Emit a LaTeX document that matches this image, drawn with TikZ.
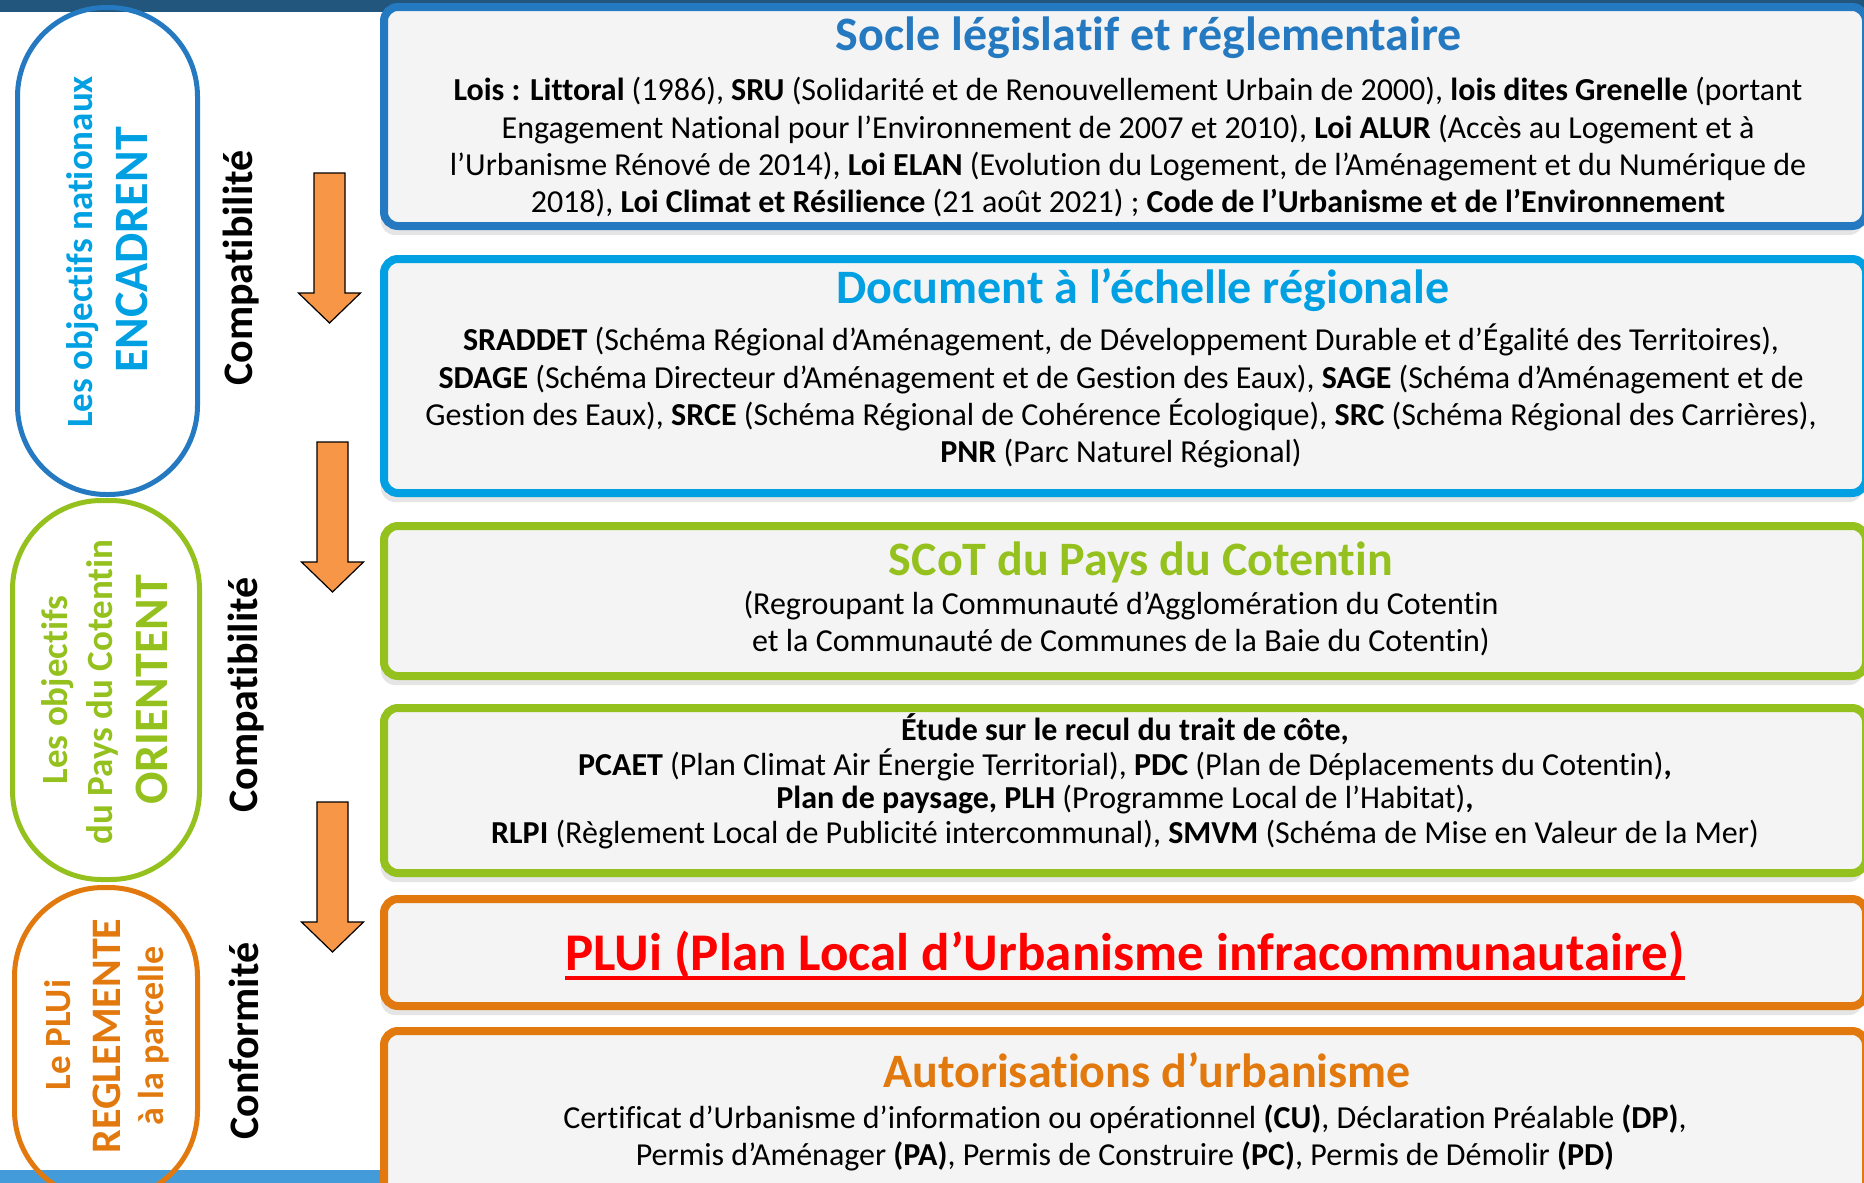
\documentclass[tikz,border=0pt]{standalone}
\usepackage{fontspec}
\setmainfont[Ligatures=NoCommon]{Carlito}
\usetikzlibrary{shadows}
\definecolor{cBlue}{RGB}{36,121,192}
\definecolor{cCyan}{RGB}{0,160,227}
\definecolor{cGreen}{RGB}{149,193,31}
\definecolor{cOrange}{RGB}{226,121,14}
\definecolor{cRed}{RGB}{255,0,0}
\definecolor{cArrow}{RGB}{247,150,70}
\definecolor{cPanel}{RGB}{244,244,244}
\definecolor{cTop}{RGB}{35,86,125}
\definecolor{cBottom}{RGB}{68,155,218}

\begin{document}
\begin{tikzpicture}[x=1pt, y=-1pt,
    panel/.style={draw=#1, line width=8pt, rounded corners=14pt, fill=cPanel, anchor=north west, outer sep=0pt,
      drop shadow={shadow xshift=-3pt, shadow yshift=-9pt, fill=black, opacity=0.1}},
    pill/.style={draw=#1, line width=5pt, rounded corners=89pt, anchor=north west, outer sep=0pt},
    pilltext/.style={text=#1, rotate=90, anchor=base, inner sep=0pt, font=\bfseries\fontsize{37}{40}\selectfont},
    pillbig/.style={pilltext=#1, font=\bfseries\fontsize{48}{52}\selectfont},
    sidelabel/.style={rotate=90, anchor=base, inner sep=0pt, font=\bfseries\fontsize{42}{48}\selectfont},
    boxtitle/.style={text=#1, anchor=base, inner sep=0pt, font=\bfseries\fontsize{48}{54}\selectfont},
    boxline/.style={anchor=base, inner sep=0pt, font=\fontsize{32}{38}\selectfont},
    downarrow/.style={fill=cArrow, draw=black, line width=1.2pt, line join=miter}]

\useasboundingbox (0,0) rectangle (1864,1183);
\clip (0,0) rectangle (1864,1183);

% bands
\fill[cTop] (0,0) rectangle (1864,12);
\fill[cBottom] (0,1170) rectangle (1864,1183);

% left pills
\node[pill=cBlue, minimum width=180pt, minimum height=487pt] (pillA) at (17.5,7.5) {};
\node[pill=cGreen, minimum width=187pt, minimum height=379pt] (pillB) at (12.5,500.5) {};
\node[pill=cOrange, minimum width=183pt, minimum height=312pt] (pillC) at (14.5,887.5) {};

\node[pilltext=cCyan] (encA) at (92,252) {Les objectifs nationaux};
\node[pillbig=cCyan] (encB) at (147,250) {ENCADRENT};
\node[pilltext=cGreen] (oriA) at (67,690) {Les objectifs};
\node[pilltext=cGreen] (oriB) at (112,692) {du Pays du Cotentin};
\node[pillbig=cGreen] (oriC) at (167,690) {ORIENTENT};
\node[pilltext=cOrange] (regA) at (70,1035) {Le PLUi};
\node[pillbig=cOrange, font=\bfseries\fontsize{42}{48}\selectfont] (regB) at (120,1036) {REGLEMENTE};
\node[pilltext=cOrange, font=\bfseries\fontsize{36}{40}\selectfont] (regC) at (163,1036) {à la parcelle};

% relations
\node[sidelabel] (compat1) at (252,268) {Compatibilité};
\node[sidelabel] (compat2) at (257,695) {Compatibilité};
\node[sidelabel] (conform) at (258,1041) {Conformité};

\foreach \ax/\ay in {329.5/173, 332.5/442, 332.5/802}
  \draw[downarrow] (\ax-15.5,\ay) -- (\ax+15.5,\ay) -- (\ax+15.5,\ay+120) -- (\ax+31,\ay+120)
    -- (\ax,\ay+150) -- (\ax-31,\ay+120) -- (\ax-15.5,\ay+120) -- cycle;

% panels
\node[panel=cBlue, minimum width=1482pt, minimum height=219pt] (socle) at (384,7) {};
\node[panel=cCyan, minimum width=1482pt, minimum height=234pt] (region) at (384,259) {};
\node[panel=cGreen, minimum width=1482pt, minimum height=150pt] (scot) at (384,526) {};
\node[panel=cGreen, minimum width=1482pt, minimum height=165pt] (etudes) at (384,708) {};
\node[panel=cOrange, minimum width=1482pt, minimum height=107pt] (plui) at (384,899) {};
\node[panel=cOrange, minimum width=1482pt, minimum height=190pt] (autor) at (384,1031) {};

% socle
\node[boxtitle=cBlue] (socleT) at (1149,50) {Socle législatif et réglementaire};
\foreach \yy/\txt [count=\i] in {
    100/{\textbf{Lois : Littoral} (1986), \textbf{SRU} (Solidarité et de Renouvellement Urbain de 2000), \textbf{lois dites Grenelle} (portant},
    138/{Engagement National pour l’Environnement de 2007 et 2010), \textbf{Loi ALUR} (Accès au Logement et à},
    175/{l’Urbanisme Rénové de 2014), \textbf{Loi ELAN} (Evolution du Logement, de l’Aménagement et du Numérique de},
    212/{2018), \textbf{Loi Climat et Résilience} (21 août 2021) ; \textbf{Code de l’Urbanisme et de l’Environnement}}}
  \node[boxline] (socle\i) at (1128,\yy) {\txt};

% region
\node[boxtitle=cCyan] (regionT) at (1143,303) {Document à l’échelle régionale};
\foreach \yy/\txt [count=\i] in {
    350/{\textbf{SRADDET} (Schéma Régional d’Aménagement, de Développement Durable et d’Égalité des Territoires),},
    388/{\textbf{SDAGE} (Schéma Directeur d’Aménagement et de Gestion des Eaux), \textbf{SAGE} (Schéma d’Aménagement et de},
    425/{Gestion des Eaux), \textbf{SRCE} (Schéma Régional de Cohérence Écologique), \textbf{SRC} (Schéma Régional des Carrières),},
    462/{\textbf{PNR} (Parc Naturel Régional)}}
  \node[boxline] (region\i) at (1121,\yy) {\txt};

% scot
\node[boxtitle=cGreen] (scotT) at (1141,575) {SCoT du Pays du Cotentin};
\foreach \yy/\txt [count=\i] in {
    614/{(Regroupant la Communauté d’Agglomération du Cotentin},
    651/{et la Communauté de Communes de la Baie du Cotentin)}}
  \node[boxline] (scot\i) at (1121,\yy) {\txt};

% etudes
\foreach \yy/\txt [count=\i] in {
    740/{\textbf{Étude sur le recul du trait de côte,}},
    775/{\textbf{PCAET} (Plan Climat Air Énergie Territorial), \textbf{PDC} (Plan de Déplacements du Cotentin)\textbf{,}},
    808/{\textbf{Plan de paysage, PLH} (Programme Local de l’Habitat)\textbf{,}},
    843/{\textbf{RLPI} (Règlement Local de Publicité intercommunal), \textbf{SMVM} (Schéma de Mise en Valeur de la Mer)}}
  \node[boxline] (etudes\i) at (1125,\yy) {\txt};

% plui
\node[boxtitle=cRed, font=\bfseries\fontsize{53}{58}\selectfont] (pluiT) at (1125,970) {PLUi (Plan Local d’Urbanisme infracommunautaire)};
\draw[cRed, line width=3.5pt] ([yshift=-8pt]pluiT.base west) -- ([yshift=-8pt]pluiT.base east);

% autorisations
\node[boxtitle=cOrange] (autorT) at (1147,1087) {Autorisations d’urbanisme};
\foreach \yy/\txt [count=\i] in {
    1128/{Certificat d’Urbanisme d’information ou opérationnel \textbf{(CU)}, Déclaration Préalable \textbf{(DP)},},
    1165/{Permis d’Aménager \textbf{(PA)}, Permis de Construire \textbf{(PC)}, Permis de Démolir \textbf{(PD)}}}
  \node[boxline] (autor\i) at (1125,\yy) {\txt};
\end{tikzpicture}
\end{document}
